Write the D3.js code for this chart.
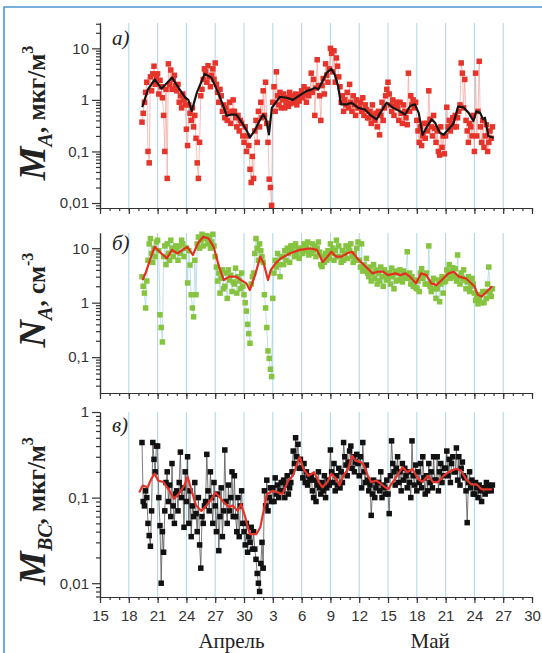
<!DOCTYPE html>
<html>
<head>
<meta charset="utf-8">
<script src="https://cdn.jsdelivr.net/npm/d3@7"></script>
<style>
body { margin: 0; background: #fff; }
svg { display: block; }
.tick text { font-family: "Liberation Sans", Arial, sans-serif; font-size: 15px; fill: #333; }
.axis path, .axis line { stroke: #333; stroke-width: 1.2; }
.serif { font-family: "Liberation Serif", "DejaVu Serif", serif; }
</style>
</head>
<body>
<script>
// Time: days since 15 April 00:00; series sampled every 3 hours from 19 April 09:00
const firstDay = 4.375;
const step = 1 / 8;

const xTickLabels = ["15", "18", "21", "24", "27", "30", "3", "6", "9", "12", "15", "18", "21", "24", "27", "30"];
const monthNames = ["Апрель", "Май"];
const monthDays = [13.7, 34.4];

const yTicksA = [0.01, 0.1, 1, 10];
const yTicksB = [0.1, 1, 10];
const yTicksC = [0.01, 0.1, 1];

// а) M_A, мкг/м3
const massA = [
    0.37, 0.55, 0.9, 1.4, 2.2,
    0.1, 0.06, 2.8, 1.5, 3.2, 4.5, 2.0, 2.6,
    3.2, 1.3, 2.4, 1.8, 1.1, 0.5, 0.1, 1.6,
    0.03, 5.0, 2.0, 3.8, 1.6, 2.5, 3.0, 1.9,
    1.5, 2.0, 0.9, 1.2, 0.7, 1.3, 1.0, 0.8,
    0.27, 0.13, 0.8, 0.55, 0.4, 0.7, 0.3, 0.5,
    0.18, 0.06, 0.03, 0.15, 1.2, 1.6, 2.5, 4.0,
    3.5, 2.2, 4.6, 2.8, 1.8, 3.0, 4.0, 2.5,
    5.2, 2.0, 1.4, 0.9, 1.6, 1.2, 0.6, 0.8,
    0.45, 0.7, 0.4, 0.55, 0.9, 0.35, 0.6, 1.0,
    0.6, 0.45, 0.3, 0.5, 0.25, 0.4, 0.35, 0.2,
    0.15, 0.3, 0.1, 0.2, 0.13, 0.045, 0.025, 0.08,
    0.03, 0.25, 0.4, 0.15, 0.6, 0.3, 0.9, 0.45,
    1.5, 0.5, 2.2, 0.35, 0.15, 0.029, 0.02, 0.009,
    0.9, 1.8, 0.6, 3.5, 1.2, 0.8, 1.4, 0.7,
    1.0, 1.3, 0.7, 0.9, 1.1, 0.75, 1.4, 0.85,
    1.2, 0.9, 1.0, 1.3, 0.8, 1.1, 0.95, 1.25,
    1.5, 1.1, 1.8, 1.3, 0.9, 1.6, 1.2, 1.4,
    3.3, 1.4, 2.5, 0.5, 1.7, 6.0, 1.9, 1.2,
    0.4, 1.9, 2.6, 1.3, 5.0, 3.0, 2.2, 4.0,
    10.0, 8.0, 3.5, 9.0, 2.2, 6.5, 4.5, 2.8,
    1.8, 0.9, 1.2, 0.6, 1.0, 0.8, 1.4, 0.7,
    2.0, 0.9, 0.6, 1.2, 0.8, 0.5, 1.0, 0.7,
    0.7, 0.9, 0.6, 1.1, 0.5, 0.8, 0.65, 0.45,
    0.45, 0.6, 0.35, 0.8, 0.5, 0.4, 0.55, 0.3,
    0.6, 0.21, 0.5, 0.9, 0.4, 0.7, 1.2, 1.6,
    2.2, 1.3, 0.8, 0.6, 1.0, 0.5, 0.75, 0.9,
    0.7, 0.4, 0.9, 0.55, 0.35, 0.8, 0.6, 0.45,
    0.33, 3.3, 0.6, 1.2, 0.8, 1.0, 0.7, 0.9,
    0.4, 0.25, 0.15, 0.3, 0.13, 0.2, 0.35, 0.18,
    0.35, 0.25, 1.5, 0.42, 0.3, 0.2, 0.5, 0.28,
    0.15, 0.25, 0.1, 0.085, 0.3, 0.12, 0.2, 0.09,
    0.2, 0.72, 0.3, 0.4, 0.25, 0.35, 0.45, 0.3,
    0.5, 0.3, 0.45, 0.6, 0.8, 5.2, 3.3, 0.7,
    2.5, 0.4, 0.25, 0.15, 0.35, 0.3, 0.2, 0.5,
    0.1, 3.3, 0.2, 0.6, 5.6, 0.3, 0.15, 0.4,
    0.12, 0.2, 0.33, 0.1, 0.15, 0.25, 0.18, 0.3
];
const smoothDaysA = [4.4, 5.0, 5.7, 6.4, 7.5, 8.2, 8.9, 9.2, 9.55, 10.1, 10.9, 11.6, 12.3, 12.85, 13.2, 13.7,
    14.2, 14.8, 15.3, 15.6, 16.1, 16.6, 17.0, 17.3, 17.6, 17.9, 18.75, 19.45, 20.1, 20.8, 21.5, 22.05,
    22.4, 22.75, 23.1, 23.6, 24.1, 24.45, 24.8, 25.1, 25.7, 26.2, 26.9, 27.6, 28.1, 28.8, 29.3, 29.85,
    30.55, 31.25, 31.8, 32.3, 32.8, 33.2, 33.6, 34.0, 34.55, 34.9, 35.4, 35.8, 36.3, 36.8, 37.3, 37.85,
    38.4, 38.9, 39.2, 39.6, 39.9, 40.1, 40.45, 41.0];
const smoothA = [0.72, 1.6, 2.5, 1.65, 2.7, 1.7, 1.1, 1.0, 0.61, 1.4, 3.2, 2.7, 1.4, 0.76, 0.49, 0.52,
    0.52, 0.36, 0.25, 0.185, 0.25, 0.39, 0.52, 0.42, 0.215, 0.7, 1.15, 1.1, 1.0, 1.22, 1.48, 1.6,
    1.72, 1.6, 2.15, 3.35, 4.0, 3.1, 1.85, 0.82, 0.82, 0.88, 0.7, 0.65, 0.52, 0.42, 0.6, 0.88,
    0.7, 0.6, 0.52, 0.76, 0.82, 0.56, 0.21, 0.29, 0.42, 0.36, 0.23, 0.21, 0.27, 0.34, 0.74, 0.72,
    0.56, 0.39, 0.6, 0.56, 0.42, 0.45, 0.2, 0.185];

// б) N_A, см-3
const numberB = [
    3.0, 2.0, 1.5, 0.8, 2.5,
    6, 12, 15, 8, 5.5, 10, 7, 13,
    14, 9, 0.6, 0.35, 0.19, 7, 11, 5,
    12, 8, 6, 14, 10, 7, 9, 11,
    9, 6, 11, 8, 14, 12, 7, 10,
    10, 2.3, 9, 4.9, 1.4, 0.8, 0.55, 6,
    1.4, 12, 16, 10, 14, 18, 11, 15,
    15, 17, 12, 16, 10, 13, 18, 11,
    7, 4.5, 2.5, 3.5, 1.5, 2.8, 4.0, 1.8,
    2.0, 3.5, 1.2, 4.0, 2.6, 3.2, 1.6, 2.4,
    2.2, 4.3, 1.5, 3.0, 2.5, 1.8, 3.5, 2.0,
    1.4, 1.0, 0.7, 0.4, 0.27, 0.18, 2.2, 3.0,
    3.5, 8, 15, 10, 6, 12, 9, 7,
    5.5, 1.4, 0.8, 0.35, 0.13, 0.095, 0.06, 0.044,
    1.2, 3.5, 6, 4.5, 8, 5, 3.0, 7,
    7, 5, 9, 6, 10, 8, 5.5, 11,
    9, 11, 7, 12, 8, 10, 6.5, 9.5,
    10, 8, 12, 9, 11, 13, 7.5, 9,
    8, 12, 9, 11, 7, 10, 13, 8.5,
    5, 4.6, 7, 5.5, 8, 6, 9, 6.5,
    12, 8, 10, 6, 9, 14, 7, 11,
    7, 5.5, 9, 6, 8, 11, 6.5, 10,
    9, 12, 7, 5.5, 8, 6, 10, 13,
    6, 4.5, 12, 3.8, 5, 4, 6.5, 3.5,
    3.0, 4.5, 2.5, 3.5, 5, 2.8, 4.0, 2.2,
    3.5, 2.5, 4.5, 3.0, 2.0, 4.0, 3.2, 2.6,
    2.8, 3.5, 2.2, 4.3, 3.0, 1.8, 3.8, 2.5,
    3.5, 2.6, 4.0, 3.0, 2.4, 3.8, 2.8, 3.3,
    8.6, 2.8, 3.5, 2.2, 3.0, 2.0, 2.6, 1.9,
    1.8, 2.5, 1.6, 3.5, 4.2, 2.8, 3.2, 2.2,
    3.5, 2.2, 11, 2.0, 1.6, 2.4, 2.8, 1.8,
    1.2, 1.8, 2.6, 1.04, 2.2, 3.0, 1.5, 2.4,
    2.5, 4.0, 3.2, 5, 2.8, 3.6, 4.4, 3.0,
    4.2, 2.5, 7.5, 3.0, 2.2, 3.5, 2.8, 4.0,
    2.6, 1.8, 2.4, 3.0, 1.6, 2.0, 2.8, 2.2,
    1.5, 1.1, 1.3, 0.95, 1.2, 1.4, 1.0, 1.6,
    1.0, 1.6, 1.2, 2.2, 4.5, 1.5, 1.3, 1.8
];
const smoothDaysB = [4.44, 4.8, 5.5, 5.7, 6.4, 6.97, 7.5, 8.05, 8.6, 9.1, 9.67, 10.2, 10.75, 11.3, 11.83,
    12.4, 12.9, 13.45, 14.2, 14.7, 15.25, 15.6, 16.15, 16.7, 17.05, 17.5, 17.8, 18.3, 18.85, 19.76,
    20.8, 21.9, 22.6, 23.2, 23.7, 24.1, 24.6, 25.2, 25.7, 26.25, 26.8, 27.3, 27.85, 28.4, 28.9,
    29.5, 30.0, 30.75, 31.3, 31.8, 32.3, 32.9, 33.45, 34.0, 34.5, 35.05, 35.6, 36.3, 36.85, 37.4,
    38.1, 39.0, 39.35, 39.75, 40.3, 40.85];
const smoothB = [2.6, 3.7, 8.6, 10.6, 8.0, 6.5, 9.3, 8.0, 9.3, 10.6, 7.5, 12.3, 16.2, 15.1, 10.6,
    4.6, 2.6, 3.0, 3.0, 2.6, 2.26, 1.7, 3.2, 7.0, 5.3, 2.6, 4.0, 5.3, 6.5, 8.0,
    9.3, 9.9, 9.3, 5.6, 7.0, 8.6, 7.0, 7.0, 8.0, 8.6, 6.5, 5.3, 4.3, 3.45, 3.7,
    3.7, 3.2, 3.45, 3.2, 3.45, 3.0, 2.26, 3.45, 3.2, 2.26, 2.1, 2.6, 3.45, 3.7, 3.0,
    2.8, 2.0, 1.4, 1.3, 1.6, 2.0];

// в) M_BC, мкг/м3
const massC = [
    0.44, 0.09, 0.08, 0.12, 0.1,
    0.05, 0.036, 0.027, 0.07, 0.44, 0.28, 0.2, 0.4,
    0.4, 0.1, 0.047, 0.01, 0.04, 0.023, 0.07, 0.15,
    0.2, 0.09, 0.14, 0.06, 0.25, 0.08, 0.05, 0.11,
    0.12, 0.07, 0.15, 0.34, 0.1, 0.13, 0.045, 0.2,
    0.09, 0.3, 0.05, 0.12, 0.035, 0.08, 0.06, 0.15,
    0.065, 0.04, 0.1, 0.028, 0.015, 0.06, 0.05, 0.08,
    0.09, 0.32, 0.12, 0.07, 0.2, 0.1, 0.05, 0.15,
    0.08, 0.04, 0.11, 0.024, 0.06, 0.13, 0.035, 0.07,
    0.36, 0.09, 0.05, 0.14, 0.07, 0.1, 0.2, 0.06,
    0.18, 0.06, 0.04, 0.1, 0.035, 0.08, 0.12, 0.05,
    0.04, 0.028, 0.05, 0.023, 0.035, 0.03, 0.045, 0.025,
    0.04, 0.025, 0.019, 0.013, 0.01, 0.008, 0.017, 0.03,
    0.015, 0.12, 0.08, 0.16, 0.07, 0.1, 0.13, 0.09,
    0.13, 0.09, 0.17, 0.11, 0.14, 0.1, 0.12, 0.15,
    0.12, 0.16, 0.1, 0.14, 0.18, 0.11, 0.13, 0.15,
    0.2, 0.35, 0.25, 0.5, 0.3, 0.42, 0.22, 0.28,
    0.22, 0.17, 0.25, 0.15, 0.2, 0.14, 0.18, 0.16,
    0.18, 0.12, 0.1, 0.16, 0.09, 0.14, 0.2, 0.13,
    0.11, 0.15, 0.12, 0.18, 0.1, 0.13, 0.16, 0.14,
    0.36, 0.2, 0.15, 0.25, 0.12, 0.18, 0.14, 0.22,
    0.13, 0.2, 0.15, 0.44, 0.3, 0.24, 0.18, 0.26,
    0.35, 0.4, 0.22, 0.3, 0.2, 0.26, 0.32, 0.25,
    0.18, 0.3, 0.13, 0.44, 0.2, 0.15, 0.24, 0.16,
    0.12, 0.14, 0.062, 0.11, 0.16, 0.1, 0.13, 0.15,
    0.15, 0.12, 0.2, 0.1, 0.14, 0.13, 0.11, 0.16,
    0.11, 0.065, 0.18, 0.46, 0.25, 0.2, 0.14, 0.22,
    0.3, 0.15, 0.2, 0.12, 0.25, 0.16, 0.22, 0.18,
    0.13, 0.2, 0.15, 0.1, 0.46, 0.18, 0.14, 0.24,
    0.12, 0.2, 0.15, 0.25, 0.13, 0.3, 0.17, 0.11,
    0.18, 0.12, 0.25, 0.15, 0.2, 0.13, 0.3, 0.16,
    0.16, 0.3, 0.12, 0.2, 0.25, 0.15, 0.18, 0.22,
    0.22, 0.35, 0.18, 0.28, 0.15, 0.25, 0.3, 0.2,
    0.2, 0.38, 0.16, 0.3, 0.14, 0.22, 0.26, 0.18,
    0.17, 0.12, 0.051, 0.15, 0.2, 0.13, 0.16, 0.11,
    0.11, 0.15, 0.13, 0.1, 0.14, 0.12, 0.09, 0.13,
    0.13, 0.11, 0.15, 0.12, 0.14, 0.13, 0.12, 0.14
];
const smoothDaysC = [4.08, 4.45, 4.97, 5.35, 5.7, 6.05, 6.6, 7.14, 7.7, 8.2, 8.77, 9.13, 9.5, 10.0, 10.55,
    11.1, 11.65, 12.0, 12.35, 12.9, 13.45, 13.8, 14.35, 14.7, 15.07, 15.6, 16.3, 16.7, 17.04, 17.4,
    17.96, 18.5, 19.0, 19.6, 20.1, 20.65, 20.8, 21.2, 21.7, 22.3, 22.8, 23.15, 23.7, 24.1, 24.6,
    24.95, 25.35, 25.85, 26.25, 26.6, 27.15, 27.5, 27.9, 28.25, 28.8, 29.5, 30.0, 30.6, 31.1, 31.5,
    32.0, 32.55, 33.1, 33.6, 34.15, 34.7, 35.2, 35.8, 36.3, 37.06, 37.6, 38.1, 38.65, 39.2, 39.75,
    40.3, 40.85];
const smoothC = [0.115, 0.138, 0.132, 0.166, 0.19, 0.158, 0.152, 0.125, 0.097, 0.11, 0.138, 0.174, 0.125, 0.081, 0.07,
    0.081, 0.097, 0.115, 0.105, 0.088, 0.077, 0.081, 0.07, 0.084, 0.062, 0.0375, 0.0375, 0.045, 0.07, 0.11,
    0.12, 0.115, 0.11, 0.158, 0.18, 0.27, 0.3, 0.217, 0.18, 0.198, 0.152, 0.132, 0.152, 0.19, 0.166,
    0.138, 0.18, 0.217, 0.31, 0.27, 0.26, 0.237, 0.18, 0.152, 0.158, 0.138, 0.125, 0.158, 0.19, 0.227,
    0.198, 0.217, 0.166, 0.152, 0.18, 0.152, 0.152, 0.18, 0.198, 0.217, 0.207, 0.166, 0.143, 0.143, 0.125,
    0.125, 0.125];

const width = 542, height = 653;

const svg = d3.select("body").append("svg")
    .attr("width", width)
    .attr("height", height);

// light blue frame (left and top edges are visible)
svg.append("path")
    .attr("d", "M4," + height + "V7H" + width)
    .attr("fill", "none")
    .attr("stroke", "#4b95d2")
    .attr("stroke-width", 1.6);

const x = d3.scaleLinear()
    .domain([0, 45])
    .range([100, 532]);

const panels = [
    { values: massA, smoothDays: smoothDaysA, smooth: smoothA, domain: [0.008, 31], top: 23, bottom: 208,
      ticks: yTicksA, dot: "#e6342a", link: "#f2a39b", lineColor: "#141414", letter: "а)", letterY: 45,
      title: [["M", "big"], ["A", "sub"], [", мкг/м", "unit"], ["3", "sup"]], titleY: 113 },
    { values: numberB, smoothDays: smoothDaysB, smooth: smoothB, domain: [0.022, 19], top: 233, bottom: 393,
      ticks: yTicksB, dot: "#86c440", link: "#a9d3e6", lineColor: "#e2301f", letter: "б)", letterY: 250,
      title: [["N", "big"], ["A", "sub"], [", см", "unit"], ["-3", "sup"]], titleY: 300 },
    { values: massC, smoothDays: smoothDaysC, smooth: smoothC, domain: [0.0069, 1], top: 412, bottom: 597,
      ticks: yTicksC, dot: "#111", link: "#444", lineColor: "#e5352a", letter: "в)", letterY: 432,
      title: [["M", "big"], ["BC", "sub"], [", мкг/м", "unit"], ["3", "sup"]], titleY: 511 }
];

const commaFormat = d => String(d).replace(".", ",");

panels.forEach(function (p, pi) {
    const y = d3.scaleLog()
        .domain(p.domain)
        .range([p.bottom, p.top]);

    const g = svg.append("g");

    // vertical grid lines at each labelled day
    g.selectAll(".grid")
        .data(d3.range(3, 45, 3))
        .enter()
        .append("line")
        .attr("x1", d => x(d))
        .attr("x2", d => x(d))
        .attr("y1", p.top)
        .attr("y2", p.bottom)
        .attr("stroke", "#acd5e8")
        .attr("stroke-width", 1);

    const points = p.values.map((v, i) => ({ day: firstDay + i * step, v: v }));
    const smoothPts = p.smooth.map((v, i) => ({ day: p.smoothDays[i], v: v }));

    const line = d3.line()
        .x(d => x(d.day))
        .y(d => y(d.v));

    g.append("path")
        .datum(points)
        .attr("fill", "none")
        .attr("stroke", p.link)
        .attr("stroke-width", 0.7)
        .attr("d", line);

    g.selectAll(".dot")
        .data(points)
        .enter()
        .append("rect")
        .attr("x", d => x(d.day) - 2.75)
        .attr("y", d => y(d.v) - 2.75)
        .attr("width", 5.5)
        .attr("height", 5.5)
        .attr("fill", p.dot);

    g.append("path")
        .datum(smoothPts)
        .attr("fill", "none")
        .attr("stroke", p.lineColor)
        .attr("stroke-width", 2.2)
        .attr("stroke-linejoin", "round")
        .attr("d", line);

    // y axis: labelled decades + minor log ticks
    g.append("g")
        .attr("class", "axis")
        .attr("transform", "translate(" + x(0) + ",0)")
        .call(d3.axisLeft(y).tickValues(p.ticks).tickFormat(commaFormat).tickSize(8).tickSizeOuter(0).tickPadding(3));
    g.append("g")
        .attr("class", "axis")
        .attr("transform", "translate(" + x(0) + ",0)")
        .call(d3.axisLeft(y).tickValues(y.ticks().filter(t => p.ticks.indexOf(t) < 0)).tickFormat("").tickSize(4).tickSizeOuter(0));

    // x axis: every 3rd day labelled, daily minor ticks
    const isLast = pi === panels.length - 1;
    g.append("g")
        .attr("class", "axis")
        .attr("transform", "translate(0," + p.bottom + ")")
        .call(d3.axisBottom(x).tickValues(d3.range(0, 46, 3))
            .tickFormat((d, i) => isLast ? xTickLabels[i] : "")
            .tickSize(6).tickSizeOuter(0).tickPadding(7));
    g.append("g")
        .attr("class", "axis")
        .attr("transform", "translate(0," + p.bottom + ")")
        .call(d3.axisBottom(x).tickValues(d3.range(0, 46)).tickFormat("").tickSize(3).tickSizeOuter(0));

    // panel letter
    g.append("text")
        .attr("class", "serif")
        .attr("x", x(0) + 12)
        .attr("y", p.letterY)
        .style("font-style", "italic")
        .style("font-size", "21px")
        .style("fill", "#222")
        .text(p.letter);

    // axis title
    const title = g.append("text")
        .attr("class", "serif")
        .attr("transform", "translate(45," + p.titleY + ") rotate(-90)")
        .style("text-anchor", "middle")
        .style("font-weight", "bold")
        .style("fill", "#222");
    p.title.forEach(function (part) {
        const ts = title.append("tspan").text(part[0]);
        if (part[1] === "big") {
            ts.style("font-size", "38px").style("font-style", "italic");
        } else if (part[1] === "sub") {
            ts.style("font-size", "20px").style("font-style", "italic").attr("dy", 7);
        } else if (part[1] === "unit") {
            ts.style("font-size", "25px").attr("dy", -7);
        } else {
            ts.style("font-size", "16px").attr("dy", -12);
        }
    });
});

// month names under the bottom axis
svg.selectAll(".month")
    .data(monthNames)
    .enter()
    .append("text")
    .attr("class", "serif")
    .attr("x", (d, i) => x(monthDays[i]))
    .attr("y", 648)
    .style("text-anchor", "middle")
    .style("font-size", "21px")
    .style("fill", "#222")
    .text(d => d);
</script>
</body>
</html>
